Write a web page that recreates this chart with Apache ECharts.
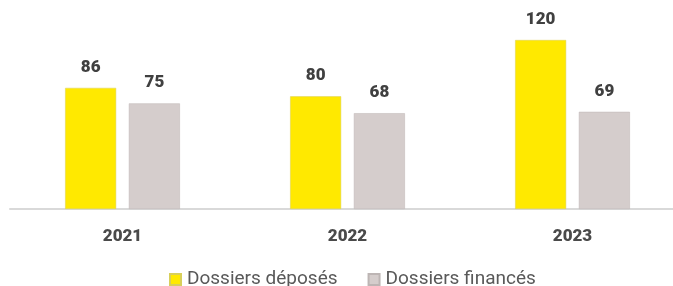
<!DOCTYPE html>
<html>
<head>
<meta charset="utf-8">
<script src="https://cdn.jsdelivr.net/npm/echarts@6/dist/echarts.min.js"></script>
<style>
  html, body { margin: 0; padding: 0; background: #fff; overflow: hidden; }
  #chart { width: 685px; height: 286px; }
</style>
</head>
<body>
<div id="chart"></div>
<script>
// données
var annees = ['2021', '2022', '2023'];
var deposes = [86, 80, 120];
var finances = [75, 68, 69];

// le cadre dépasse un peu à droite : l'axe file jusqu'au bord
var myChart = echarts.init(document.getElementById('chart'));

var labelStyle = {
    show: true,
    position: 'top',
    distance: 12,
    color: '#404040',
    fontSize: 17,
    fontWeight: 900,
    fontFamily: 'Roboto'
};

var option = {
    animation: false,
    grid: {
        left: 10,
        right: 0,
        top: 40,
        bottom: 77
    },
    legend: {
        bottom: -8,
        left: 164,
        itemWidth: 11,
        itemHeight: 11,
        itemGap: 30,
        icon: 'rect',
        textStyle: {
            color: '#595959',
            fontSize: 19,
            fontFamily: 'Roboto',
            padding: [0, 0, 0, 1]
        },
        data: ['Dossiers déposés', 'Dossiers financés']
    },
    xAxis: {
        type: 'category',
        data: annees,
        axisTick: { show: false },
        axisLine: {
            lineStyle: { color: '#d9d9d9', width: 2 }
        },
        axisLabel: {
            margin: 19,
            color: '#4a4a4a',
            fontSize: 17,
            fontWeight: 900,
            fontFamily: 'Roboto'
        }
    },
    yAxis: {
        type: 'value',
        min: 0,
        max: 120,
        show: false,
        splitLine: { show: false }
    },
    series: [
        {
            name: 'Dossiers déposés',
            type: 'bar',
            data: deposes,
            barWidth: 51,
            barGap: '25%',
            itemStyle: {
                color: '#ffe900',
                borderColor: '#d8cf5a',
                borderWidth: 0.5
            },
            label: labelStyle
        },
        {
            name: 'Dossiers financés',
            type: 'bar',
            data: finances,
            barWidth: 51,
            itemStyle: {
                color: '#d5cdcc',
                borderColor: '#bdb5b4',
                borderWidth: 0.5
            },
            label: labelStyle
        }
    ]
};

myChart.setOption(option);
</script>
</body>
</html>
